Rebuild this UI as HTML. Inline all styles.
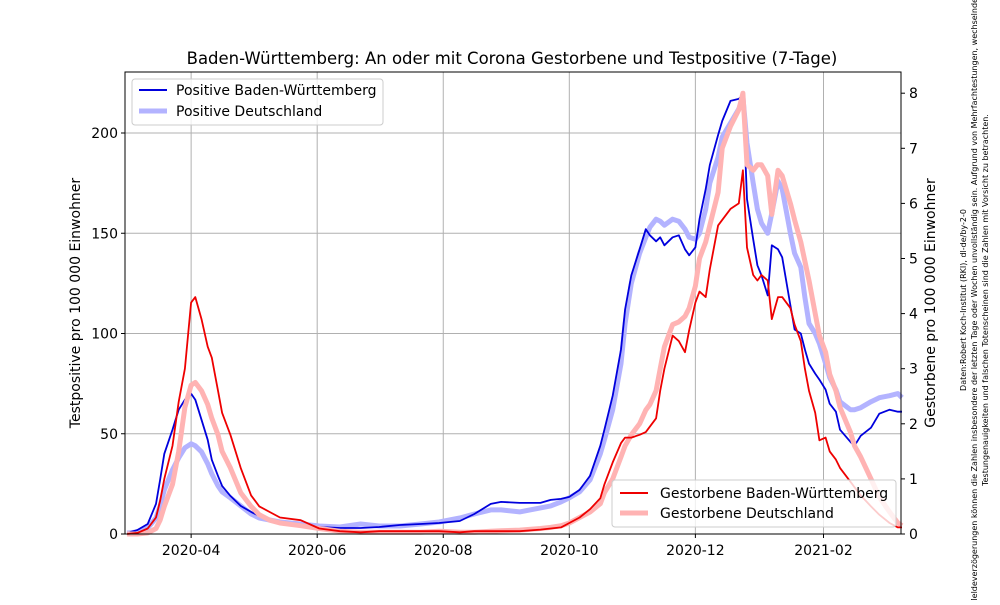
<!DOCTYPE html>
<html><head><meta charset="utf-8"><style>
body{margin:0;background:#fff}
svg{font-family:"DejaVu Sans","Liberation Sans",sans-serif}
</style></head><body>
<svg id="chart" width="1000" height="600" viewBox="0 0 1000 600">
<rect width="1000" height="600" fill="#fff"/>
<g id="grid"></g>
<g id="series"></g>
<rect x="125" y="72" width="776" height="462" fill="none" stroke="#000" stroke-width="1"/>
<g id="axes" font-size="14"></g>
<text x="512" y="64" text-anchor="middle" font-size="16.5">Baden-Württemberg: An oder mit Corona Gestorbene und Testpositive (7-Tage)</text>
<text transform="translate(80,303) rotate(-90)" text-anchor="middle" font-size="14">Testpositive pro 100 000 Einwohner</text>
<text transform="translate(935,303) rotate(-90)" text-anchor="middle" font-size="14">Gestorbene pro 100 000 Einwohner</text>
<g font-size="8" text-anchor="middle">
<text transform="translate(966,300) rotate(-90)">Daten:Robert Koch-Institut (RKI), dl-de/by-2-0</text>
<text transform="translate(977,300) rotate(-90)">Meldeverzögerungen können die Zahlen insbesondere der letzten Tage oder Wochen unvollständig sein. Aufgrund von Mehrfachtestungen, wechselnder</text>
<text transform="translate(988,300) rotate(-90)">Testungenauigkeiten und falschen Totenscheinen sind die Zahlen mit Vorsicht zu betrachten.</text>
</g>
<g>
<rect x="132" y="79" width="251" height="46" fill="#fff" fill-opacity="0.8" stroke="#ccc" rx="3"/>
<line x1="139" y1="90" x2="167" y2="90" stroke="#0000dd" stroke-width="2"/>
<text x="176" y="95" font-size="14">Positive Baden-Württemberg</text>
<line x1="139" y1="111" x2="167" y2="111" stroke="#b3b3ff" stroke-width="5"/>
<text x="176" y="116" font-size="14">Positive Deutschland</text>
</g>
<g>
<rect x="612" y="480" width="284" height="47" fill="#fff" fill-opacity="0.8" stroke="#ccc" rx="3"/>
<line x1="620" y1="493" x2="648" y2="493" stroke="#ee0000" stroke-width="2"/>
<text x="660" y="498" font-size="14">Gestorbene Baden-Württemberg</text>
<line x1="620" y1="513" x2="648" y2="513" stroke="#ffb3b3" stroke-width="5"/>
<text x="660" y="518" font-size="14">Gestorbene Deutschland</text>
</g>
</svg>
<script>
// days since 2020-03-01
const days=[0,5,10,14,16,18,22,25,28,31,33,36,39,41,44,46,50,55,60,64,69,74,84,93,103,113,122,132,142,151,161,168,176,181,190,200,205,210,214,219,224,229,231,235,239,241,244,248,251,253,256,258,260,264,267,270,272,275,277,280,282,286,288,292,296,298,300,303,305,307,310,312,315,317,321,323,326,328,330,333,335,338,340,343,345,350,352,355,360,364,369,373,375];
const posBW=[0.5,2,5,15,27,40,52,62,67,70,67,57,47,37,29,24,19,14,11,9,7.5,6,4.5,3.5,3,3,3.5,4.5,5,5.5,6.5,10,15,16,15.5,15.5,17,17.5,18.5,22,29,44,52,69,92,112,129,142,152,149,146,148,144,148,149,142,139,143,157,172,184,199,206,216,217,219,167,147,134,129,119,144,142,138,114,102,100,92,85,80,77,72,65,61,52,46,44,49,53,60,62,61,61];
const posDE=[0.5,1,3,8,14,22,32,38,43,45,44,41,35,30,24,21,18,14,10,8,7,6,5,4,3.5,5,4,4,5,6,8,10,12,12,11,13,14,16,18,21,27,40,47,62,85,105,125,140,148,153,157,156,154,157,156,152,148,147,150,162,175,188,198,205,212,218,195,175,162,155,150,160,176,172,150,140,133,118,105,100,95,85,78,72,66,62,62,63,66,68,69,70,68];
const deathBW=[0,0.02,0.1,0.3,0.6,1.0,1.6,2.4,3.0,4.2,4.3,3.9,3.4,3.2,2.6,2.2,1.8,1.2,0.7,0.5,0.4,0.3,0.25,0.1,0.05,0.03,0.05,0.05,0.05,0.05,0.03,0.05,0.05,0.05,0.05,0.08,0.1,0.12,0.2,0.3,0.45,0.65,0.9,1.3,1.65,1.75,1.75,1.8,1.85,1.95,2.1,2.6,3.0,3.6,3.5,3.3,3.7,4.2,4.4,4.3,4.8,5.6,5.7,5.9,6.0,6.6,5.2,4.7,4.6,4.7,4.6,3.9,4.3,4.3,4.1,3.8,3.5,3.0,2.6,2.2,1.7,1.75,1.5,1.35,1.2,0.95,0.85,0.7,0.5,0.35,0.2,0.12,0.12];
const deathDE=[0,0,0.02,0.1,0.25,0.5,0.9,1.5,2.3,2.7,2.75,2.6,2.35,2.1,1.8,1.5,1.2,0.75,0.5,0.35,0.25,0.2,0.15,0.1,0.05,0.03,0.03,0.03,0.03,0.05,0.03,0.03,0.05,0.06,0.07,0.1,0.12,0.15,0.2,0.3,0.4,0.55,0.75,1.0,1.4,1.6,1.8,2.0,2.25,2.35,2.6,3.0,3.4,3.8,3.85,3.95,4.1,4.5,5.0,5.3,5.6,6.2,7.0,7.4,7.7,8.0,6.7,6.6,6.7,6.7,6.5,5.8,6.6,6.5,6.0,5.7,5.3,4.95,4.6,4.0,3.6,3.3,2.9,2.6,2.3,1.85,1.6,1.4,1.0,0.67,0.4,0.2,0.15];
const xTickDays=[31,92,153,214,275,337];
const xTickLabels=["2020-04","2020-06","2020-08","2020-10","2020-12","2021-02"];
const leftTicks=[0,50,100,150,200];
const rightTicks=[0,1,2,3,4,5,6,7,8];

const NS="http://www.w3.org/2000/svg";
const X0=125,X1=901,Y0=534,YT=72;
const dayMin=-1,dayMax=374.5;
const xS=d=>X0+(d-dayMin)/(dayMax-dayMin)*(X1-X0);
const yL=v=>Y0-v*2.005;
const yR=v=>Y0-v*55.1;
function mk(tag,attrs,parent){const e=document.createElementNS(NS,tag);for(const k in attrs)e.setAttribute(k,attrs[k]);parent.appendChild(e);return e;}
const grid=document.getElementById('grid'),axes=document.getElementById('axes'),ser=document.getElementById('series');
xTickDays.forEach((d,i)=>{
  const x=xS(d);
  const g=mk('line',{x1:x,x2:x,y1:YT,y2:Y0,stroke:'#b0b0b0','stroke-width':1},grid);
  
  
  const t=mk('line',{x1:x,x2:x,y1:Y0,y2:Y0+4,stroke:'#000'},axes);
  
  
  const l=mk('text',{x:x,y:Y0+21,'text-anchor':'middle'},axes);
  l.textContent=xTickLabels[i];
  
  
});
leftTicks.forEach(v=>{
  const y=yL(v);
  const g=mk('line',{x1:X0,x2:X1,y1:y,y2:y,stroke:'#b0b0b0','stroke-width':1},grid);
  
  
  const t=mk('line',{x1:X0-4,x2:X0,y1:y,y2:y,stroke:'#000'},axes);
  
  
  const l=mk('text',{x:X0-7,y:y+5,'text-anchor':'end'},axes);
  l.textContent=v;
  
  
});
rightTicks.forEach(v=>{
  const y=yR(v);
  const t=mk('line',{x1:X1,x2:X1+4,y1:y,y2:y,stroke:'#000'},axes);
  
  
  const l=mk('text',{x:X1+8,y:y+5,'text-anchor':'start'},axes);
  l.textContent=v;
  
  
});
function line(vals,ys,color,w,name){
  const pts=days.map((d,i)=>xS(d).toFixed(1)+','+ys(vals[i]).toFixed(1)).join(' ');
  const p=mk('polyline',{points:pts,fill:'none',stroke:color,'stroke-width':w,'stroke-linejoin':'round'},ser);
  
  
}
line(posDE,yL,'#b3b3ff',5,'line-positive-de');
line(posBW,yL,'#0000dd',1.8,'line-positive-bw');
line(deathDE,yR,'#ffb3b3',5,'line-deaths-de');
line(deathBW,yR,'#ee0000',1.8,'line-deaths-bw');
</script>
</body></html>
